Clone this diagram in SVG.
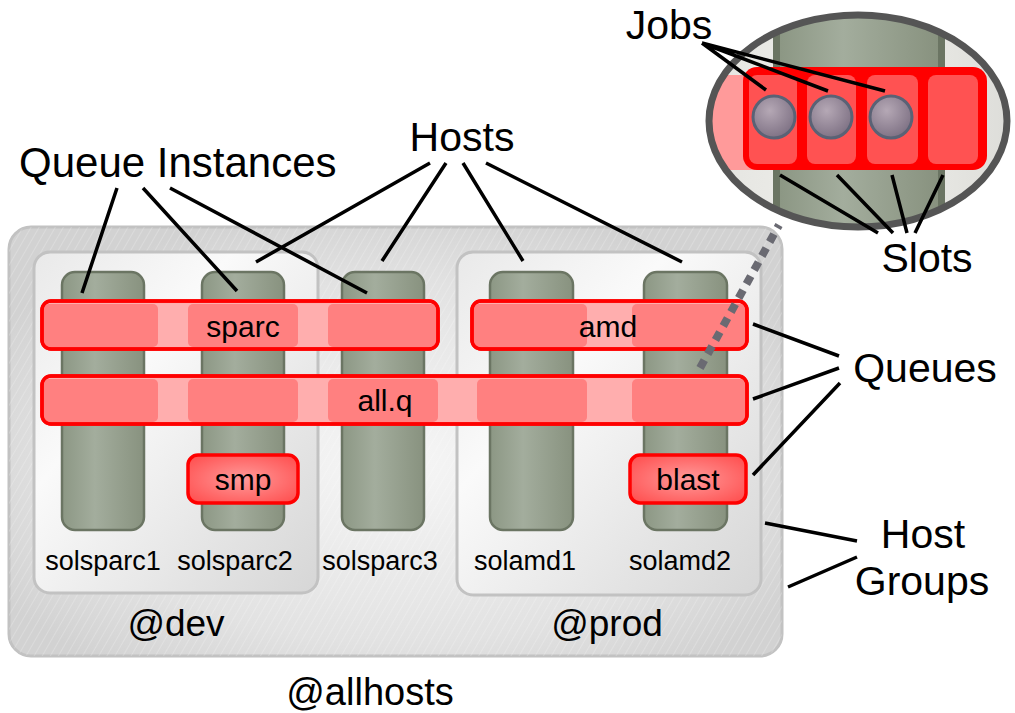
<svg xmlns="http://www.w3.org/2000/svg" width="1015" height="713" viewBox="0 0 1015 713">
<defs>
<style>
.lbl{font-family:"Liberation Sans",Arial,Helvetica,sans-serif;fill:#000}
.big{font-size:41px}
.q{font-size:30px}
.h{font-size:27px}
.g{font-size:37px}
.col{fill:url(#colG);stroke:#6b7563;stroke-width:2.5}
.bar{fill:#ffaeae;stroke:#ff0000;stroke-width:3.5}
.seg{fill:#ff8080}
.small{fill:url(#redG);stroke:#ff0000;stroke-width:3.5}
.ln{stroke:#000;stroke-width:3.5;fill:none}
.grp{stroke:#c2c2c2;stroke-width:3}
</style>
<pattern id="hatch" width="7" height="7" patternUnits="userSpaceOnUse" patternTransform="rotate(30)">
<line x1="0" y1="0" x2="0" y2="7" stroke="#ffffff" stroke-width="1.2" opacity="0.35"/>
</pattern>
<radialGradient id="outerG" cx="0.5" cy="0.55" r="0.6">
<stop offset="0" stop-color="#f6f6f6"/>
<stop offset="0.7" stop-color="#e2e2e2"/>
<stop offset="1" stop-color="#d2d2d2"/>
</radialGradient>
<linearGradient id="innerG" x1="0" y1="0" x2="1" y2="1">
<stop offset="0" stop-color="#e9e9e9"/>
<stop offset="0.35" stop-color="#fafafa"/>
<stop offset="1" stop-color="#d6d6d6"/>
</linearGradient>
<linearGradient id="colG" x1="0" y1="0" x2="1" y2="0">
<stop offset="0" stop-color="#8c9784"/>
<stop offset="0.4" stop-color="#a3ad9d"/>
<stop offset="1" stop-color="#88927f"/>
</linearGradient>
<radialGradient id="redG" cx="0.5" cy="0.5" r="0.7">
<stop offset="0" stop-color="#ff9a9a"/>
<stop offset="1" stop-color="#ff4a4a"/>
</radialGradient>
<radialGradient id="ballG" cx="0.4" cy="0.35" r="0.7">
<stop offset="0" stop-color="#b5a8b5"/>
<stop offset="1" stop-color="#7c6f82"/>
</radialGradient>
<linearGradient id="insetBg" x1="0" y1="0" x2="1" y2="0">
<stop offset="0" stop-color="#e4e4e0"/>
<stop offset="0.5" stop-color="#f0f0ec"/>
<stop offset="1" stop-color="#dcdcd8"/>
</linearGradient>
<clipPath id="ellClip"><ellipse cx="858" cy="121" rx="149" ry="106"/></clipPath>
</defs>

<g id="allhosts">
<rect x="9" y="227" width="773" height="429" rx="22" class="grp" fill="url(#outerG)"/>
<rect x="9" y="227" width="773" height="429" rx="22" fill="url(#hatch)"/>
<text x="370" y="705" text-anchor="middle" class="lbl" font-size="38">@allhosts</text>
</g>

<g id="dev">
<rect x="34" y="252" width="284" height="341" rx="16" class="grp" fill="url(#innerG)"/>
<text x="176" y="636" text-anchor="middle" class="lbl g">@dev</text>
</g>

<g id="prod">
<rect x="457" y="252" width="304" height="343" rx="16" class="grp" fill="url(#innerG)"/>
<text x="607" y="636" text-anchor="middle" class="lbl g">@prod</text>
</g>

<g id="solsparc1">
<rect x="62" y="272" width="82" height="258" rx="13" class="col"/>
<text x="103" y="570" text-anchor="middle" class="lbl h">solsparc1</text>
</g>
<g id="solsparc2">
<rect x="202" y="272" width="82" height="258" rx="13" class="col"/>
<text x="235" y="570" text-anchor="middle" class="lbl h">solsparc2</text>
</g>
<g id="solsparc3">
<rect x="342" y="272" width="82" height="258" rx="13" class="col"/>
<text x="380" y="570" text-anchor="middle" class="lbl h">solsparc3</text>
</g>
<g id="solamd1">
<rect x="490" y="272" width="83" height="258" rx="13" class="col"/>
<text x="525" y="570" text-anchor="middle" class="lbl h">solamd1</text>
</g>
<g id="solamd2">
<rect x="644" y="272" width="83" height="258" rx="13" class="col"/>
<text x="680" y="570" text-anchor="middle" class="lbl h">solamd2</text>
</g>

<g id="sparc">
<rect x="42" y="301" width="396" height="48" rx="9" class="bar"/>
<rect x="44" y="304" width="114" height="43" rx="5" class="seg"/>
<rect x="188" y="304" width="110" height="43" rx="5" class="seg"/>
<rect x="328" y="304" width="108" height="43" rx="5" class="seg"/>
<rect x="42" y="301" width="396" height="48" rx="9" fill="none" stroke="#ff0000" stroke-width="3.5"/>
<text x="243" y="337" text-anchor="middle" class="lbl q">sparc</text>
</g>

<g id="allq">
<rect x="42" y="376" width="705" height="48" rx="9" class="bar"/>
<rect x="44" y="379" width="114" height="43" rx="5" class="seg"/>
<rect x="188" y="379" width="110" height="43" rx="5" class="seg"/>
<rect x="328" y="379" width="110" height="43" rx="5" class="seg"/>
<rect x="477" y="379" width="110" height="43" rx="5" class="seg"/>
<rect x="632" y="379" width="113" height="43" rx="5" class="seg"/>
<rect x="42" y="376" width="705" height="48" rx="9" fill="none" stroke="#ff0000" stroke-width="3.5"/>
<text x="385" y="411" text-anchor="middle" class="lbl q">all.q</text>
</g>

<g id="amd">
<rect x="472" y="301" width="275" height="48" rx="9" class="bar"/>
<rect x="474" y="304" width="113" height="43" rx="5" class="seg"/>
<rect x="632" y="304" width="113" height="43" rx="5" class="seg"/>
<rect x="472" y="301" width="275" height="48" rx="9" fill="none" stroke="#ff0000" stroke-width="3.5"/>
<text x="608" y="337" text-anchor="middle" class="lbl q">amd</text>
</g>

<g id="smp">
<rect x="188" y="455" width="110" height="48" rx="10" class="small"/>
<text x="243" y="490" text-anchor="middle" class="lbl q">smp</text>
</g>

<g id="blast">
<rect x="630" y="455" width="116" height="48" rx="10" class="small"/>
<text x="688" y="490" text-anchor="middle" class="lbl q">blast</text>
</g>

<g id="inset">
<g clip-path="url(#ellClip)">
<rect x="700" y="0" width="320" height="240" fill="url(#insetBg)"/>
<rect x="773" y="0" width="172" height="240" fill="#6b7563"/>
<rect x="780" y="0" width="158" height="240" fill="url(#colG)"/>
<rect x="700" y="75" width="60" height="95" fill="#ff9a9a"/>
<rect x="743" y="67" width="244" height="103" rx="14" fill="#ff0000"/>
<rect x="749" y="75" width="48" height="89" rx="8" fill="#ff5252"/>
<rect x="807" y="75" width="49" height="89" rx="8" fill="#ff5252"/>
<rect x="867" y="75" width="51" height="89" rx="8" fill="#ff5252"/>
<rect x="928" y="75" width="50" height="89" rx="8" fill="#ff5252"/>
<circle cx="774" cy="117" r="21" fill="url(#ballG)" stroke="#5a6275" stroke-width="3"/>
<circle cx="831" cy="117" r="21" fill="url(#ballG)" stroke="#5a6275" stroke-width="3"/>
<circle cx="891" cy="117" r="21" fill="url(#ballG)" stroke="#5a6275" stroke-width="3"/>
</g>
<ellipse cx="858" cy="121" rx="149" ry="106" fill="none" stroke="#555555" stroke-width="7"/>
</g>

<g id="callouts">
<text x="19" y="177" class="lbl" font-size="42">Queue Instances</text>
<text x="462" y="151" text-anchor="middle" class="lbl big">Hosts</text>
<text x="669" y="39" text-anchor="middle" class="lbl big">Jobs</text>
<text x="927" y="272" text-anchor="middle" class="lbl big">Slots</text>
<text x="925" y="382" text-anchor="middle" class="lbl big">Queues</text>
<text x="923" y="548" text-anchor="middle" class="lbl big">Host</text>
<text x="922" y="595" text-anchor="middle" class="lbl big">Groups</text>
</g>

<g id="connectors">
<line x1="700" y1="368" x2="779" y2="225" stroke="#6a6a72" stroke-width="8" stroke-dasharray="9 7"/>
<path class="ln" d="M117 188 L82 293 M143 188 L237 291 M170 188 L367 293"/>
<path class="ln" d="M430 163 L256 262 M446 163 L382 261 M463 163 L523 261 M486 163 L682 262"/>
<path class="ln" d="M839 356 L753 324 M839 368 L753 399 M840 383 L753 475"/>
<path class="ln" d="M857 541 L765 523 M857 557 L788 587"/>
<path class="ln" d="M702 43 L766 90 M702 43 L828 91 M702 43 L885 91"/>
<path class="ln" d="M780 175 L878 233 M837 175 L893 233 M892 175 L907 233 M943 175 L915 233"/>
</g>
</svg>
